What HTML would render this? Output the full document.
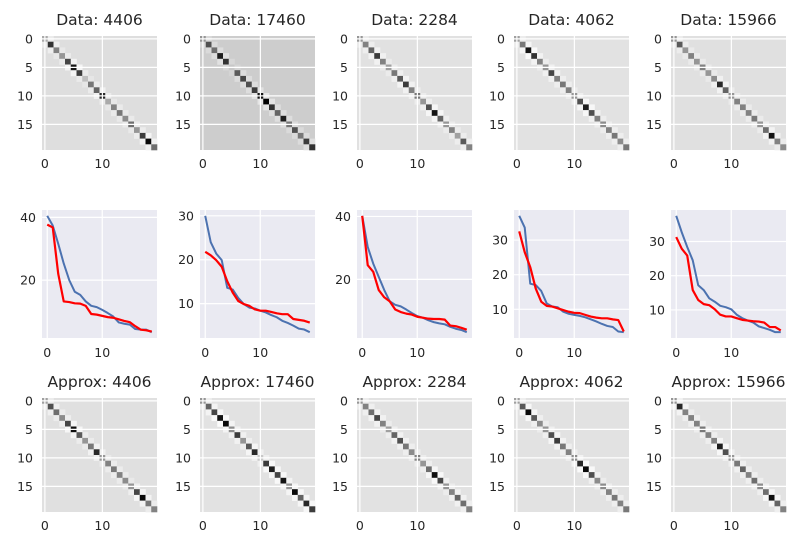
<!DOCTYPE html>
<html><head><meta charset="utf-8">
<style>
html,body{margin:0;padding:0;background:#fff;}
svg{display:block;font-family:"DejaVu Sans","Liberation Sans",sans-serif;}
</style></head>
<body>
<svg id="fig" width="800" height="550" viewBox="0 0 800 550" xmlns="http://www.w3.org/2000/svg"></svg>
<script>
const ids = ["4406","17460","2284","4062","15966"];
const dataDiag = [
 [170,50,130,150,70,20,60,190,120,100,40,170,130,120,140,110,150,60,10,110],
 [150,80,110,30,50,200,90,70,80,60,20,0,50,100,30,120,80,120,60,50],
 [150,130,100,60,130,160,120,90,60,130,120,150,80,20,100,150,130,160,90,130],
 [160,120,20,50,130,150,70,130,120,130,150,80,30,80,130,140,130,120,140,120],
 [150,90,150,130,150,130,150,140,40,100,150,130,130,130,120,150,110,20,130,140]
];
const approxDiag = [
 [160,80,110,140,70,15,90,150,120,40,150,130,120,130,140,150,70,10,120,130],
 [150,100,70,20,10,140,60,150,90,40,200,60,30,70,20,150,10,100,40,60],
 [150,130,110,70,130,160,100,80,120,140,130,150,110,15,70,150,130,100,110,130],
 [160,90,10,90,140,150,80,60,120,130,140,40,10,80,140,140,130,120,130,120],
 [150,40,130,130,130,120,130,130,30,80,150,120,100,130,110,140,110,15,100,130]
];
const dataBg = [222,205,225,226,224];
const approxBg = [224,226,226,226,226];
const blueSeries = [
 [40.5,37.4,31.6,25.3,20,16.3,15.3,13.2,11.8,11.4,10.5,9.5,8.4,6.5,6.1,5.8,4.4,4.2,4.2,3.4],
 [30,24,21.4,19.9,13.6,13.2,11.3,9.9,9.1,8.9,8.4,8.0,7.4,6.9,6.1,5.6,5.0,4.3,4.1,3.5],
 [40.2,30.3,25,20.8,16.6,13,11.9,11.4,10.4,9.3,8.3,7.8,7.0,6.4,6.0,5.7,4.9,4.3,3.9,3.2],
 [37,33.6,17.4,17,15.3,11.7,10.8,10.6,9.3,8.7,8.4,8.1,7.7,7.1,6.5,5.8,5.2,4.9,3.6,3.4],
 [37.5,32.7,28.4,24.5,17.2,15.8,13.4,12.4,11.2,10.8,10.2,8.6,7.6,6.9,6.3,5.2,4.7,4.2,3.5,3.5]
];
const redSeries = [
 [37.7,36.8,22,13.2,13,12.6,12.5,11.8,9.2,9.0,8.6,8.2,8.0,7.5,7.0,6.6,5.3,4.2,4.0,3.6],
 [21.8,21.0,19.9,18.4,15.1,12.5,10.6,9.9,9.5,8.7,8.4,8.4,8.1,7.8,7.6,7.6,6.5,6.3,6.1,5.7],
 [40.2,24.5,22.4,16.6,14.3,13,10.4,9.6,9.1,8.8,8.1,7.8,7.5,7.4,7.4,7.2,5.3,5.1,4.6,4.0],
 [32.5,26.5,22.2,16,12.2,11,10.8,10.3,9.8,9.3,9.0,8.9,8.4,7.9,7.6,7.4,7.4,7.1,6.9,3.6],
 [31.3,27.9,25.9,15.8,12.9,11.7,11.4,10.2,8.6,8.1,8.1,7.6,7.1,6.9,6.7,6.6,6.3,5.0,5.0,4.0]
];
const lineYTicks = [[20,40],[10,20,30],[20,40],[10,20,30],[10,20,30]];
const heatTicksY = [0,5,10,15];
const heatTicksX = [0,10];
const lineTicksX = [0,10];

const NS = "http://www.w3.org/2000/svg";
const svg = document.getElementById("fig");
const lefts = [42,200,357,514,671];
const W = 115;
function mk(tag, attrs, parent){
  const e = document.createElementNS(NS, tag);
  for (const k in attrs) e.setAttribute(k, attrs[k]);
  (parent||svg).appendChild(e);
  return e;
}
function txt(x,y,s,anchor,size,parent){
  const t = mk("text",{x:x,y:y,"text-anchor":anchor,"font-size":size,fill:"#262626"},parent);
  t.textContent = s;
  return t;
}
function gray(v){v=Math.max(0,Math.min(255,Math.round(v)));return "rgb("+v+","+v+","+v+")";}

function heatmap(col, top, diag, bg, title, kind){
  const g = mk("g",{});
  
  
  const x0 = lefts[col], H = 114, n = 20, cw = W/n, ch = H/n;
  const sx = i => x0 + (i+0.5)*cw;
  const sy = i => top + (i+0.5)*ch;
  mk("rect",{x:x0,y:top,width:W,height:H,fill:gray(bg)},g);
  for (let i=0;i<n;i++){
    const c = mk("rect",{x:sx(i)-cw/2,y:sy(i)-ch/2,width:cw+0.3,height:ch+0.3,fill:gray(diag[i])},g);
    
    
    if (i<n-1){
      const nb = (diag[i]+diag[i+1])/2;
      const v = bg + (bg-nb)*0.12;
      mk("rect",{x:sx(i+1)-cw/2,y:sy(i)-ch/2,width:cw+0.3,height:ch+0.3,fill:gray(v)},g);
      mk("rect",{x:sx(i)-cw/2,y:sy(i+1)-ch/2,width:cw+0.3,height:ch+0.3,fill:gray(v)},g);
    }
  }
  heatTicksY.forEach(t=>{
    mk("line",{x1:x0,x2:x0+W,y1:sy(t),y2:sy(t),stroke:"#fff","stroke-width":1.2},g);
    const l = txt(x0-9,sy(t)+4.5,String(t),"end",12.5,g);
    
    
  });
  heatTicksX.forEach(t=>{
    mk("line",{y1:top,y2:top+H,x1:sx(t),x2:sx(t),stroke:"#fff","stroke-width":1.2},g);
    const l = txt(sx(t),top+H+18,String(t),"middle",12.5,g);
    
    
  });
  const tt = txt(x0+W/2,top-11,title,"middle",15.5,g);
  
  
}

function linePlot(col){
  const g = mk("g",{});
  
  
  const x0 = lefts[col], top = 210, H = 128;
  const b = blueSeries[col], r = redSeries[col];
  const all = b.concat(r);
  const mn = Math.min(...all), mx = Math.max(...all), pad=(mx-mn)*0.05;
  const ylo = mn-pad, yhi = mx+pad;
  const xlo = -0.95, xhi = 19.95;
  const sx = v => x0 + (v-xlo)/(xhi-xlo)*W;
  const sy = v => top + H - (v-ylo)/(yhi-ylo)*H;
  mk("rect",{x:x0,y:top,width:W,height:H,fill:"#EAEAF2"},g);
  lineYTicks[col].forEach(t=>{
    mk("line",{x1:x0,x2:x0+W,y1:sy(t),y2:sy(t),stroke:"#fff","stroke-width":1.2},g);
    const l = txt(x0-6,sy(t)+4.5,String(t),"end",12.5,g);
    
    
  });
  lineTicksX.forEach(t=>{
    mk("line",{y1:top,y2:top+H,x1:sx(t),x2:sx(t),stroke:"#fff","stroke-width":1.2},g);
    const l = txt(sx(t),top+H+19,String(t),"middle",12.5,g);
    
    
  });
  const pb = mk("polyline",{points:b.map((v,i)=>sx(i)+","+sy(v)).join(" "),fill:"none",stroke:"#4C72B0","stroke-width":2,"stroke-linejoin":"round"},g);
  
  
  const pr = mk("polyline",{points:r.map((v,i)=>sx(i)+","+sy(v)).join(" "),fill:"none",stroke:"#FF0000","stroke-width":2.2,"stroke-linejoin":"round"},g);
  
  
}

for (let c=0;c<5;c++){
  heatmap(c,36,dataDiag[c],dataBg[c],"Data: "+ids[c],"data");
  linePlot(c);
  heatmap(c,398,approxDiag[c],approxBg[c],"Approx: "+ids[c],"approx");
}
</script>
</body></html>
